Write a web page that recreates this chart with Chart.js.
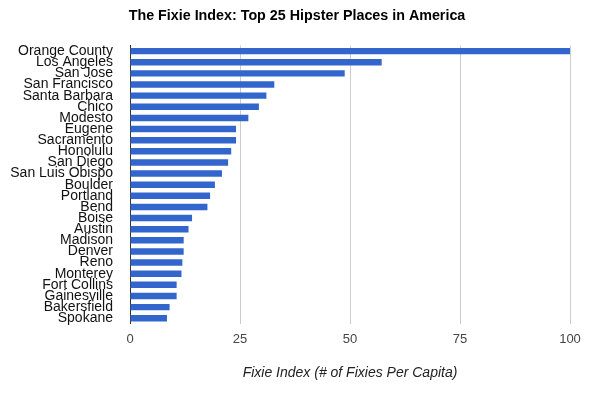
<!DOCTYPE html>
<html lang="en">

<head>
    <meta charset="UTF-8">
    <title>The Fixie Index</title>
    <script src="https://cdn.jsdelivr.net/npm/chart.js"></script>
    <style>
        body {
            margin: 0;
            background: #fff;
        }

        #wrap {
            width: 600px;
            height: 393px;
        }
    </style>
</head>

<body>
    <div id="wrap">
        <canvas id="fixieChart" width="600" height="393"></canvas>
    </div>
    <script>
        // chart data
        const places = [
            'Orange County', 'Los Angeles', 'San Jose', 'San Francisco', 'Santa Barbara',
            'Chico', 'Modesto', 'Eugene', 'Sacramento', 'Honolulu', 'San Diego',
            'San Luis Obispo', 'Boulder', 'Portland', 'Bend', 'Boise', 'Austin',
            'Madison', 'Denver', 'Reno', 'Monterey', 'Fort Collins', 'Gainesville',
            'Bakersfield', 'Spokane'
        ];
        const fixieIndex = [
            100, 57.2, 48.8, 32.8, 31.0,
            29.3, 26.9, 24.1, 24.1, 23.0, 22.3,
            20.9, 19.3, 18.2, 17.6, 14.1, 13.3,
            12.2, 12.2, 11.9, 11.7, 10.6, 10.6,
            9.0, 8.4
        ];
        const xTicks = [0, 25, 50, 75, 100];

        const chartTitle = 'The Fixie Index: Top 25 Hipster Places in America';
        const axisTitle = 'Fixie Index (# of Fixies Per Capita)';

        const ctx = document.getElementById('fixieChart').getContext('2d');
        const fixieChart = new Chart(ctx, {
            type: 'bar',
            data: {
                labels: places,
                datasets: [{
                    label: 'Fixie Index',
                    data: fixieIndex,
                    backgroundColor: '#3366cc',
                    categoryPercentage: 0.58,
                    barPercentage: 1.0
                }]
            },
            options: {
                indexAxis: 'y',
                responsive: false,
                animation: false,
                layout: {
                    padding: { left: 0, right: 6, top: 0, bottom: 11 }
                },
                plugins: {
                    legend: { display: false },
                    tooltip: { enabled: false },
                    title: {
                        display: true,
                        text: chartTitle,
                        color: '#000',
                        font: { family: 'Liberation Sans', size: 14.3, weight: 'bold' },
                        padding: { top: 7.5, bottom: 20.9 }
                    }
                },
                scales: {
                    x: {
                        min: 0,
                        max: 100,
                        afterBuildTicks: function(scale) {
                            scale.ticks = xTicks.map(v => ({ value: v }));
                        },
                        grid: {
                            color: '#cccccc',
                            drawTicks: false
                        },
                        border: { display: false },
                        ticks: {
                            color: '#444',
                            padding: 8,
                            font: { family: 'Liberation Sans', size: 13 }
                        },
                        title: {
                            display: true,
                            text: axisTitle,
                            color: '#222',
                            font: { family: 'Liberation Sans', size: 14, style: 'italic' },
                            padding: { top: 9.8, bottom: 0 }
                        }
                    },
                    y: {
                        afterFit: function(scale) {
                            scale.width = 130;
                        },
                        grid: {
                            display: false,
                            drawTicks: false
                        },
                        border: { display: true, color: '#333', width: 1 },
                        ticks: {
                            autoSkip: false,
                            color: '#111',
                            padding: 17,
                            font: { family: 'Liberation Sans', size: 14, lineHeight: 1 }
                        }
                    },
                    // empty right axis, only reserves the right margin
                    yRight: {
                        type: 'category',
                        position: 'right',
                        afterFit: function(scale) {
                            scale.width = 24;
                        },
                        grid: { display: false, drawTicks: false },
                        border: { display: false },
                        ticks: { display: false }
                    }
                }
            }
        });
    </script>
</body>

</html>
